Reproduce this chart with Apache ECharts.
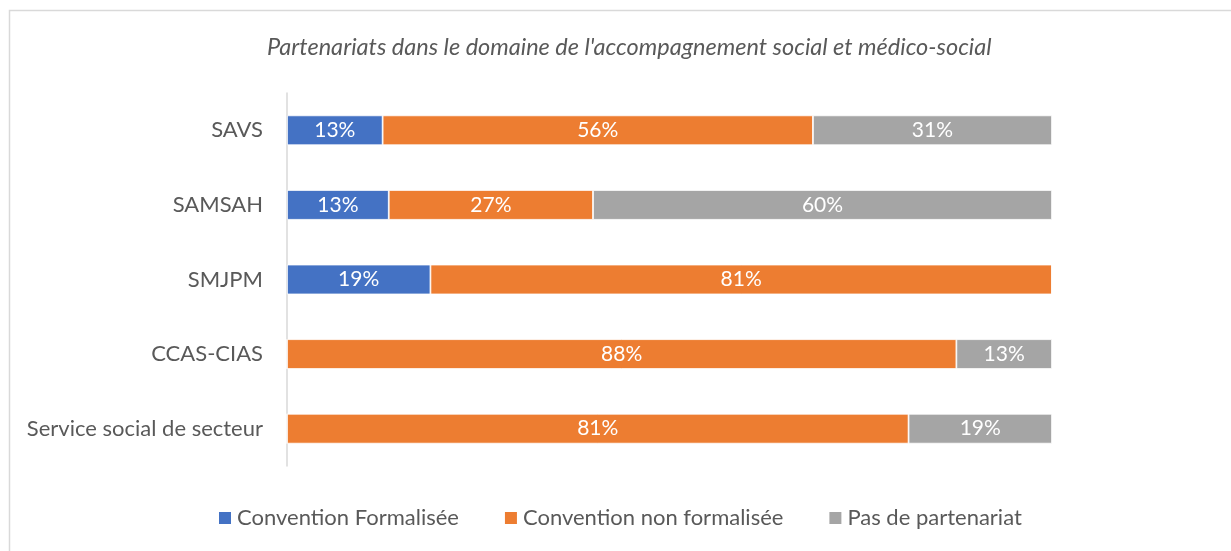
<!DOCTYPE html>
<html><head><meta charset="utf-8">
<script src="https://cdn.jsdelivr.net/npm/echarts@6/dist/echarts.min.js"></script>
<style>html,body{margin:0;padding:0;background:#fff}#c{width:1231px;height:551px}</style>
</head><body><div id="c"></div>
<script>
const categories = ['SAVS','SAMSAH','SMJPM','CCAS-CIAS','Service social de secteur'];
const seriesNames = ['Convention Formalisée','Convention non formalisée','Pas de partenariat'];
const formalisee = [12.5, 13.3, 18.75, 0, 0];
const nonFormalisee = [56.25, 26.7, 81.25, 87.5, 81.25];
const pasPartenariat = [31.25, 60, 0, 12.5, 18.75];
const colors = ['#4472C4','#ED7D31','#A5A5A5'];
const FONT = 'Lato';

const chart = echarts.init(document.getElementById('c'));
const mk = (name, data, color) => ({
  name, type: 'bar', stack: 'total', data,
  barWidth: '40%',
  itemStyle: {color, borderColor: '#fff', borderWidth: 0.8},
  label: {show: true, position: 'inside', color: '#fff', fontFamily: FONT, fontSize: 21,
    formatter: p => p.value > 0 ? Math.round(p.value) + '%' : ''}
});
chart.setOption({
  animation: false,
  title: {text: "Partenariats dans le domaine de l'accompagnement social et médico-social",
    left: 262, top: 31,
    textStyle: {fontFamily: FONT, fontStyle: 'italic', fontWeight: 'normal', fontSize: 23.5, color: '#595959'}},
  graphic: [{type: 'rect', shape: {x: 9.5, y: 10.5, width: 1240, height: 580},
    style: {fill: 'none', stroke: '#D9D9D9', lineWidth: 1.5}, silent: true}],
  legend: {bottom: 17, left: 212, itemWidth: 14, itemHeight: 14, itemGap: 44,
    icon: 'rect', textStyle: {fontFamily: FONT, fontSize: 22, color: '#595959'}},
  grid: {left: 287, right: 179, top: 93, bottom: 85},
  xAxis: {type: 'value', min: 0, max: 100, show: false},
  yAxis: {type: 'category', data: categories, inverse: true,
    axisLine: {show: true, lineStyle: {color: '#D9D9D9', width: 1.5}},
    axisTick: {show: false},
    axisLabel: {fontFamily: FONT, fontSize: 22, color: '#595959', margin: 24}},
  series: [mk(seriesNames[0], formalisee, colors[0]), mk(seriesNames[1], nonFormalisee, colors[1]), mk(seriesNames[2], pasPartenariat, colors[2])]
});
</script></body></html>
